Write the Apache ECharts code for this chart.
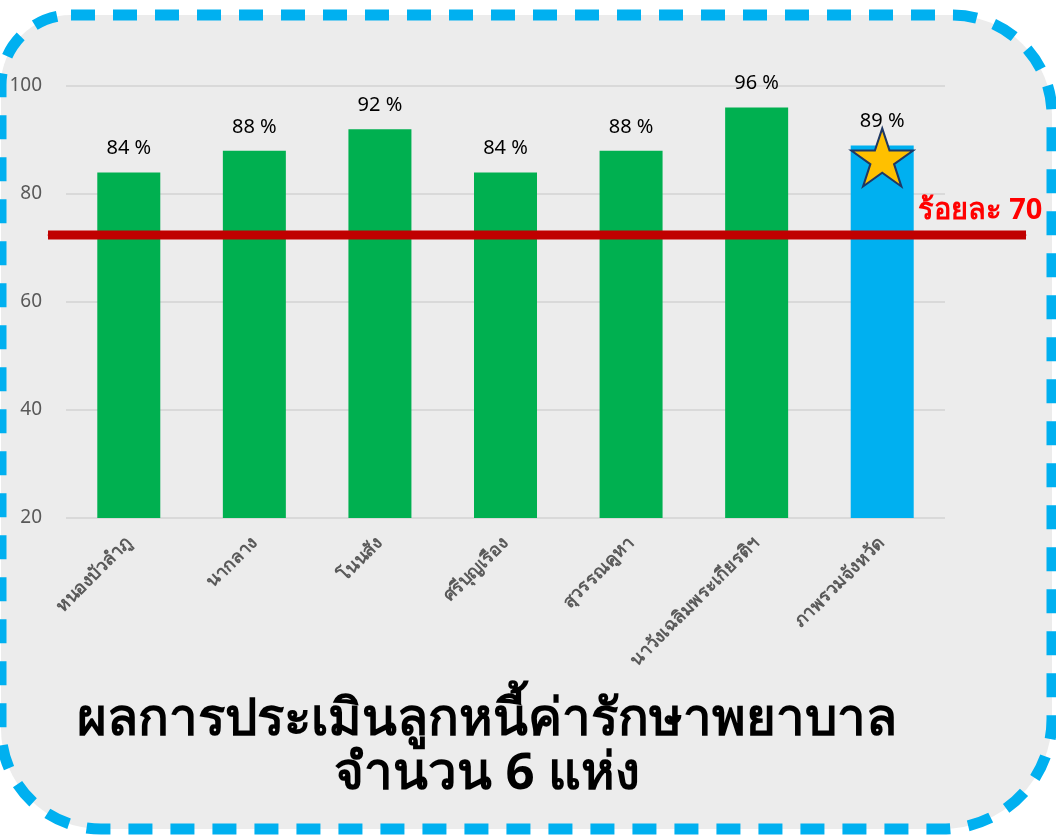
<!DOCTYPE html>
<html>
<head>
<meta charset="UTF-8">
<title>ผลการประเมินลูกหนี้ค่ารักษาพยาบาล</title>
<script src="https://cdn.jsdelivr.net/npm/echarts@6/dist/echarts.min.js"></script>
<style>
  html, body { margin: 0; padding: 0; background: #ffffff; }
  #main { width: 1056px; height: 839px; }
</style>
</head>
<body>
<div id="main"></div>
<script type="text/javascript">
  // data
  var hospitals = ['หนองบัวลำภู', 'นากลาง', 'โนนสัง', 'ศรีบุญเรือง', 'สุวรรณคูหา', 'นาวังเฉลิมพระเกียรติฯ', 'ภาพรวมจังหวัด'];
  var scores = [84, 88, 92, 84, 88, 96, 89];
  var targetLine = 72.4;           // drawn position of the target line
  var targetText = 'ร้อยละ 70';
  var yTicks = [20, 40, 60, 80, 100];

  var green = '#00B050', blue = '#00B0F0';
  var font = "'Noto Sans', 'DejaVu Sans', sans-serif";
  var starPath = 'path://M50,0 L61.8,36.2 L100,36.2 L69.1,58.6 L80.9,95.1 L50,72.7 L19.1,95.1 L30.9,58.6 L0,36.2 L38.2,36.2 Z';

  var barData = scores.map(function (v, i) {
    return { value: v, itemStyle: { color: i === scores.length - 1 ? blue : green } };
  });
  var last = scores.length - 1;

  var option = {
    backgroundColor: '#ffffff',
    textStyle: { fontFamily: font },
    graphic: [
      {
        type: 'rect', z: -10, silent: true,
        shape: { x: 1, y: 15, width: 1051, height: 814, r: [70, 100, 110, 100] },
        style: { fill: '#ECECEC', stroke: blue, lineWidth: 11, lineDash: [24, 18] }
      },
      {
        type: 'text', z: 10,
        x: 487, y: 693,
        style: {
          text: 'ผลการประเมินลูกหนี้ค่ารักษาพยาบาล\nจำนวน 6 แห่ง',
          align: 'center', verticalAlign: 'top',
          font: 'bold 51px ' + font, lineHeight: 54, fill: '#000000'
        }
      }
    ],
    grid: [
      { left: 66, right: 111, top: 86, bottom: 321 },
      { left: 48, right: 30, top: 86, bottom: 321 }
    ],
    xAxis: [
      {
        type: 'category', gridIndex: 0, data: hospitals,
        axisLine: { show: false }, axisTick: { show: false },
        axisLabel: { rotate: 45, interval: 0, color: '#595959', fontSize: 18, fontWeight: 'bold', margin: 22 }
      },
      { type: 'value', gridIndex: 1, min: 0, max: 1, show: false }
    ],
    yAxis: [
      {
        type: 'value', gridIndex: 0, min: yTicks[0], max: yTicks[yTicks.length - 1], interval: 20,
        axisLine: { show: false }, axisTick: { show: false },
        axisLabel: { color: '#595959', fontSize: 19, margin: 24 },
        splitLine: { lineStyle: { color: '#D9D9D9', width: 2 } }
      },
      { type: 'value', gridIndex: 1, min: yTicks[0], max: yTicks[yTicks.length - 1], show: false }
    ],
    series: [
      {
        type: 'bar', xAxisIndex: 0, yAxisIndex: 0, barWidth: 63,
        data: barData,
        label: { show: true, position: 'top', distance: 14, formatter: '{c} %', color: '#000000', fontSize: 20 },
        markPoint: {
          symbol: starPath, symbolSize: [62, 58], symbolOffset: [0, 12],
          itemStyle: { color: '#FFC000', borderColor: '#1F3864', borderWidth: 2 },
          label: { show: false },
          data: [{ coord: [last, scores[last]] }],
          z: 5
        }
      },
      {
        type: 'line', xAxisIndex: 1, yAxisIndex: 1, z: 4,
        symbol: 'circle', symbolSize: 1, silent: true,
        itemStyle: { color: '#C00000' },
        lineStyle: { color: '#C00000', width: 9 },
        data: [
          [0, targetLine],
          {
            value: [1, targetLine],
            label: {
              show: true, formatter: targetText, color: '#FF0000',
              fontSize: 29, fontWeight: 'bold', position: 'top', distance: 9, offset: [-46, 0]
            }
          }
        ]
      }
    ]
  };

  var myChart = echarts.init(document.getElementById('main'));
  myChart.setOption(option);
</script>
</body>
</html>
